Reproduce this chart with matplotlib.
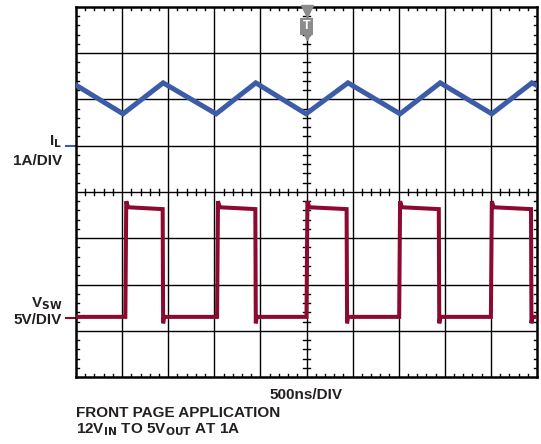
import matplotlib.pyplot as plt
import numpy as np

plt.rcParams['font.family'] = ['Liberation Sans', 'DejaVu Sans']

# scope screen: 10 x 8 divisions
n_xdiv = 10
n_ydiv = 8

# inductor current (divisions from bottom)
il_x = [0.0, 1.02, 1.89, 3.04, 3.90, 4.99, 5.90, 7.03, 7.90, 9.02, 9.89, 10.0]
il_y = [6.31, 5.69, 6.36, 5.69, 6.36, 5.69, 6.36, 5.69, 6.36, 5.69, 6.36, 6.30]

# switch node edges (divisions)
sw_rise = [1.07, 3.06, 5.00, 7.01, 9.00]
sw_fall = [1.89, 3.90, 5.88, 7.88, 9.88]
sw_low = 1.30
sw_high_start = 3.67
sw_high_end = 3.63
sw_spike = 3.80
sw_dip = 1.16

il_ref = 5.0
sw_ref = 1.27

blue = '#3d5ca8'
red = '#8c0a30'
txt = '#231f20'

fig = plt.figure(figsize=(5.41, 4.44), dpi=100)
ax = fig.add_axes([76 / 541, 1 - 377 / 444, 461 / 541, 370 / 444])
ax.set_xlim(0, n_xdiv)
ax.set_ylim(0, n_ydiv)
ax.set_xticks([])
ax.set_yticks([])
for s in ax.spines.values():
    s.set_linewidth(1.8)
    s.set_color('black')

# grid
for i in range(1, n_xdiv):
    ax.axvline(i, color='black', lw=1.0, zorder=1)
for j in range(1, n_ydiv):
    ax.axhline(j, color='black', lw=1.0, zorder=1)

# minor ticks on edges and center lines
tk = 0.07
for m in np.arange(0.2, n_xdiv, 0.2):
    if abs(m - round(m)) < 1e-6:
        continue
    ax.plot([m, m], [n_ydiv, n_ydiv - tk], color='black', lw=1.0, zorder=1)
    ax.plot([m, m], [0, tk], color='black', lw=1.0, zorder=1)
    ax.plot([m, m], [4 - tk, 4 + tk], color='black', lw=1.0, zorder=1)
for m in np.arange(0.2, n_ydiv, 0.2):
    if abs(m - round(m)) < 1e-6:
        continue
    ax.plot([0, tk], [m, m], color='black', lw=1.0, zorder=1)
    ax.plot([n_xdiv, n_xdiv - tk], [m, m], color='black', lw=1.0, zorder=1)
    ax.plot([5 - tk, 5 + tk], [m, m], color='black', lw=1.0, zorder=1)

# inductor current trace
ax.plot(il_x, il_y, color=blue, lw=3.6, solid_joinstyle='miter', zorder=3)

# switch node trace
sx = [0.0]
sy = [sw_low]
for r, f in zip(sw_rise, sw_fall):
    sx += [r, r + 0.02, r + 0.06, f - 0.01, f, f + 0.02, f + 0.06]
    sy += [sw_low, sw_spike, sw_high_start, sw_high_end, sw_dip, sw_low, sw_low]
sx.append(n_xdiv)
sy.append(sw_low)
ax.plot(sx, sy, color=red, lw=2.9, solid_joinstyle='miter', zorder=3)

# trigger marker
grey = '#8c8c8c'
ax.plot([5], [7.92], marker='v', ms=8, color=grey, clip_on=False, zorder=4)
ax.text(5, 7.58, 'T', color='white', fontsize=9, fontweight='bold', ha='center', va='center',
        zorder=5, bbox=dict(boxstyle='square,pad=0.18', fc=grey, ec='none'))
ax.plot([5], [7.38], marker='v', ms=6, color=grey, zorder=4)

# channel reference markers and labels
ax.plot([-0.22, 0], [il_ref, il_ref], color=blue, lw=1.5, clip_on=False)
ax.plot([-0.22, 0], [sw_ref, sw_ref], color=red, lw=1.5, clip_on=False)
lab = dict(fontsize=11, fontweight='bold', ha='right', va='center', color=txt)
ax.text(-0.30, 5.08, r'I$_\mathbf{L}$', **lab)
ax.text(-0.30, 4.66, '1A/DIV', **lab)
ax.text(-0.30, 1.58, r'V$_\mathbf{SW}$', **lab)
ax.text(-0.30, 1.24, '5V/DIV', **lab)

fig.text(306 / 541, 1 - 395 / 444, '500ns/DIV', fontsize=11, fontweight='bold',
         ha='center', va='center', color=txt)
fig.text(76 / 541, 1 - 413 / 444, 'FRONT PAGE APPLICATION', fontsize=11, fontweight='bold',
         ha='left', va='center', color=txt)
fig.text(76 / 541, 1 - 430 / 444, r'12V$_\mathbf{IN}$ TO 5V$_\mathbf{OUT}$ AT 1A', fontsize=11,
         fontweight='bold', ha='left', va='center', color=txt)

fig.savefig('out.png', dpi=100)
